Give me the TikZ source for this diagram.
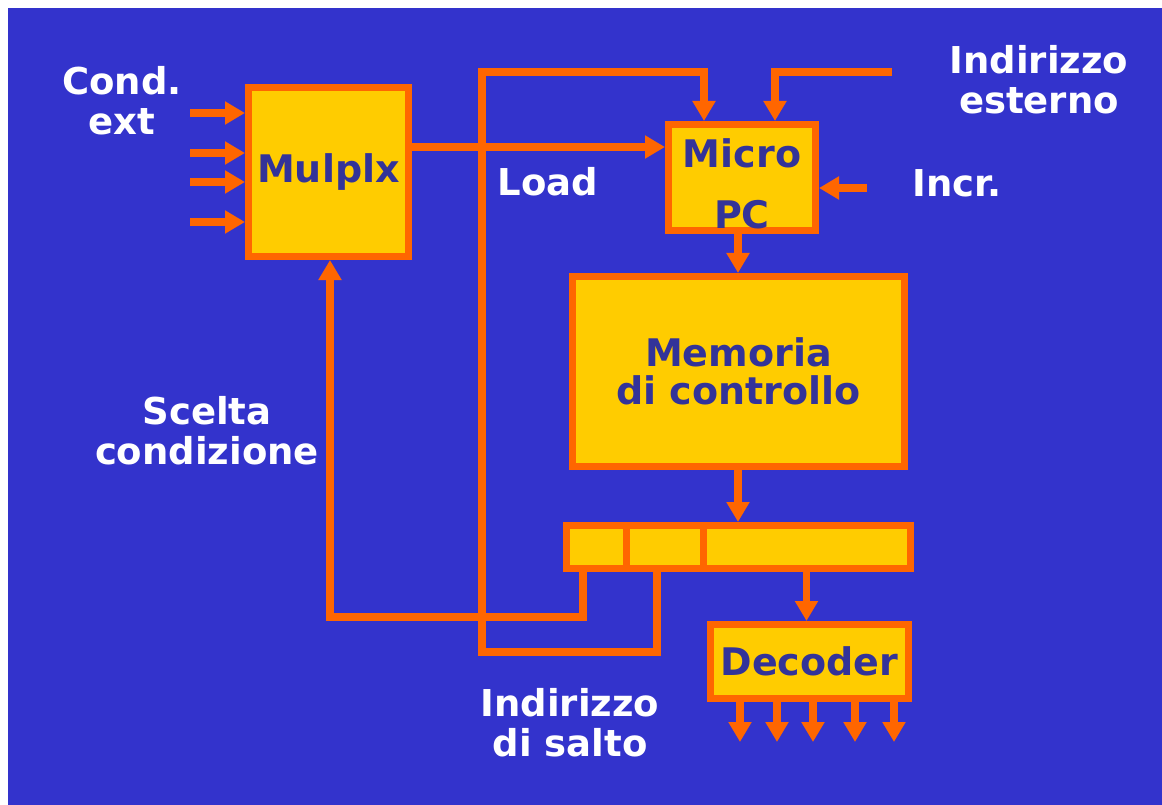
\documentclass[tikz,border=0pt]{standalone}
\usepackage{fontspec}
\setmainfont{DejaVu Sans}
\usetikzlibrary{arrows.meta}
\definecolor{bgblue}{RGB}{51,51,204}
\definecolor{wireor}{RGB}{255,102,0}
\definecolor{boxyel}{RGB}{255,204,0}
\definecolor{txtblue}{RGB}{51,51,153}
\begin{document}
\begin{tikzpicture}[x=1pt,y=-1pt,
  box/.style={draw=wireor, fill=boxyel, line width=7pt, inner sep=0pt,
    text=txtblue, align=center, font=\bfseries\fontsize{38}{38}\selectfont},
  intext/.style={text=txtblue, align=center, inner sep=0pt,
    font=\bfseries\fontsize{38}{61}\selectfont},
  lbl/.style={text=white, align=center, inner sep=0pt,
    font=\bfseries\fontsize{37}{40}\selectfont},
  wire/.style={draw=wireor, line width=7.5pt, line join=miter},
  arr/.style={wire, -{Triangle[width=22pt,length=20pt]}}]
% canvas
\fill[white] (0,0) rectangle (1162,805);
\fill[bgblue] (8,8) rectangle (1162,805);
% boxes
\node[box, minimum width=160pt, minimum height=169pt] (mux) at (328.5,172) {Mulplx};
\node[box, minimum width=147pt, minimum height=106pt] (upc) at (742,177.5) {};
\node[intext] (upctxt) at (742,184) {Micro\\PC};
\node[box, minimum width=332pt, minimum height=190pt] (mem) at (738.5,371.5) {Memoria\\di controllo};
\node[box, minimum width=60pt, minimum height=43pt] (r1) at (596,547) {};
\node[box, minimum width=77pt, minimum height=43pt] (r2) at (664.5,547) {};
\node[box, minimum width=207pt, minimum height=43pt] (r3) at (806.5,547) {};
\node[box, minimum width=198pt, minimum height=74pt] (dec) at (809.5,661.5) {Decoder};
% labels
\node[lbl] (cond) at (122,101) {Cond.\\ext};
\node[lbl] (load) at (548,182) {Load};
\node[lbl] (indest) at (1039,80) {Indirizzo\\esterno};
\node[lbl] (incr) at (957,183) {Incr.};
\node[lbl] (scelta) at (207,431) {Scelta\\condizione};
\node[lbl] (salto) at (570,723) {Indirizzo\\di salto};
% coordinates
\coordinate (c1) at (190,113);
\coordinate (c2) at (190,153);
\coordinate (c3) at (190,182);
\coordinate (c4) at (190,222);
\coordinate (mo) at (412,147);
\coordinate (j2) at (657,652);
\coordinate (l1) at (482,652);
\coordinate (l2) at (482,72);
\coordinate (l3) at (704,72);
\coordinate (s1) at (583,617);
\coordinate (s2) at (330,617);
\coordinate (e1) at (892,72);
\coordinate (e2) at (775,72);
\coordinate (inc) at (867,188);
\coordinate (um) at (738,240);
\coordinate (o1) at (740,742);
\coordinate (o2) at (777,742);
\coordinate (o3) at (813,742);
\coordinate (o4) at (855,742);
\coordinate (o5) at (894,742);
% condition inputs
\foreach \c in {c1,c2,c3,c4} \draw[arr] (\c) -- (\c -| mux.west);
% mux -> micro pc (load)
\draw[arr] (mo) -- (mo -| upc.west);
% jump address
\draw[arr] (r2.south -| j2) -- (j2) -- (l1) -- (l2) -- (l3) -- (upc.north -| l3);
% condition select
\draw[arr] (r1.south -| s1) -- (s1) -- (s2) -- (mux.south -| s2);
% external address
\draw[arr] (e1) -- (e2) -- (upc.north -| e2);
% increment
\draw[arr] (inc) -- (inc -| upc.east);
% micro pc -> memory
\draw[arr] (upc.south -| um) -- (mem.north -| um);
% memory -> register
\draw[arr] (mem.south -| um) -- (r3.north -| um);
% register -> decoder
\draw[arr] (r3.south) -- (dec.north -| r3.south);
% decoder outputs
\foreach \o in {o1,o2,o3,o4,o5} \draw[arr] (dec.south -| \o) -- (\o);
\end{tikzpicture}
\end{document}
